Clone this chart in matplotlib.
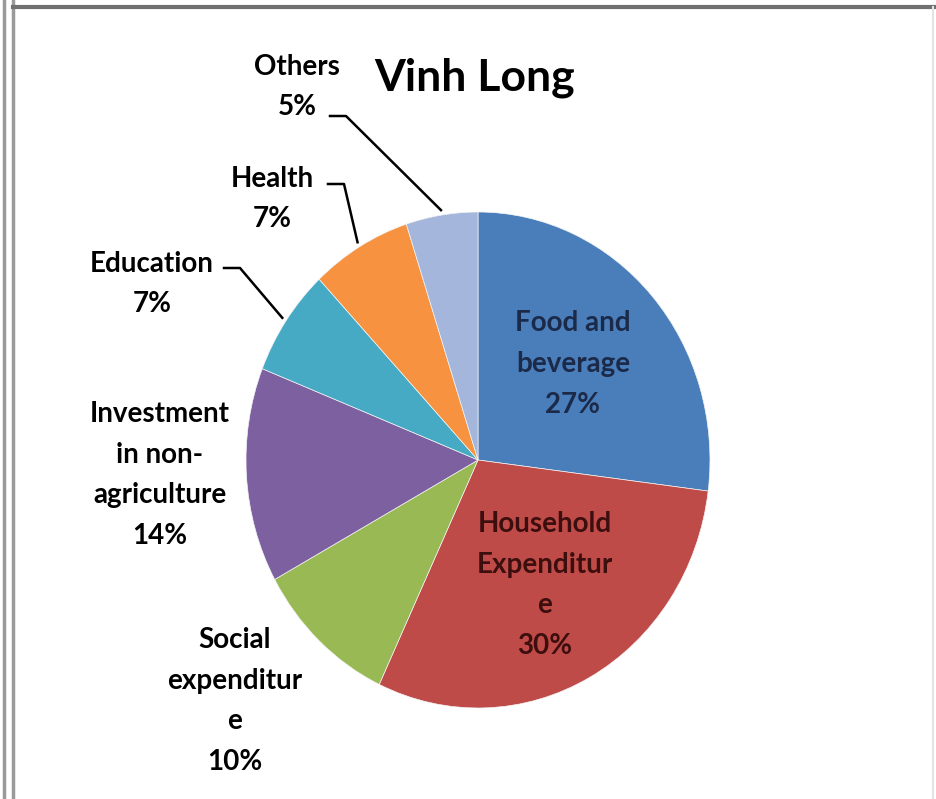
import numpy as np
import matplotlib
matplotlib.use("Agg")
import matplotlib.pyplot as plt
from matplotlib.lines import Line2D

plt.rcParams['font.family'] = ['Lato', 'DejaVu Sans']

# data
labels = ['Food and\nbeverage', 'Household\nExpenditur\ne', 'Social\nexpenditur\ne',
          'Investment\nin non-\nagriculture', 'Education', 'Health', 'Others']
values = [27, 30, 10, 14, 7, 7, 5]
colors = ['#4a7ebb', '#be4b48', '#98b954', '#7d60a0', '#46aac5', '#f69240', '#a4b6db']
title = 'Vinh Long'

W, H = 936, 799
CX, CY, RX, RY = 478, 460, 232, 248   # pie centre / radii in pixels

fig = plt.figure(figsize=(W / 100, H / 100), dpi=100)
ax = fig.add_axes([0, 0, 1, 1])

wedges, _ = ax.pie(values, colors=colors, startangle=90, counterclock=False,
                   wedgeprops=dict(linewidth=0.5, edgecolor='#f4f4f4'))
ax.set_aspect('auto')
ax.set_xlim(-CX / RX, (W - CX) / RX)
ax.set_ylim(-(H - CY) / RY, CY / RY)
ax.axis('off')


def pix(x, y):
    # image pixel -> data coords
    return (x - CX) / RX, (CY - y) / RY


# label positions (pixel centres) and leader starts
lab_pos = [(573, 364), (545, 585), (235, 701), (160, 475), (152, 284), (272, 199), (297, 87)]
lab_col = ['#1c2a4a', '#3d0e0e', 'black', 'black', 'black', 'black', 'black']
leader = {4: (224, 268), 5: (328, 184), 6: (330, 116)}

for i, (w, lab, v) in enumerate(zip(wedges, labels, values)):
    x, y = pix(*lab_pos[i])
    ax.text(x, y, f'{lab}\n{v}%', ha='center', va='center', fontsize=20,
            fontweight='bold', color=lab_col[i], linespacing=1.7)
    if i in leader:
        ang = np.deg2rad((w.theta1 + w.theta2) / 2)
        ex, ey = np.cos(ang) * 1.02, np.sin(ang) * 1.02
        sx, sy = pix(*leader[i])
        mx, _ = pix(leader[i][0] + 16, 0)
        ax.plot([sx, mx, ex], [sy, sy, ey], color='black', lw=1.8, clip_on=False)

tx, ty = pix(475, 78)
ax.text(tx, ty, title, ha='center', va='center', fontsize=32, fontweight='bold')

# frame lines like the screenshot
for xs, ys, c, lw in [([4 / W, 4 / W], [0, 1], '#9a9a9a', 2.5),
                      ([13 / W, 13 / W], [0, 1], '#9a9a9a', 2.5),
                      ([13 / W, 1], [1 - 7 / H, 1 - 7 / H], '#707070', 3),
                      ([933 / W, 933 / W], [0, 1 - 7 / H], '#e4e4e4', 1.5)]:
    fig.add_artist(Line2D(xs, ys, color=c, lw=lw))

fig.savefig('out.png', dpi=100, facecolor='white')
